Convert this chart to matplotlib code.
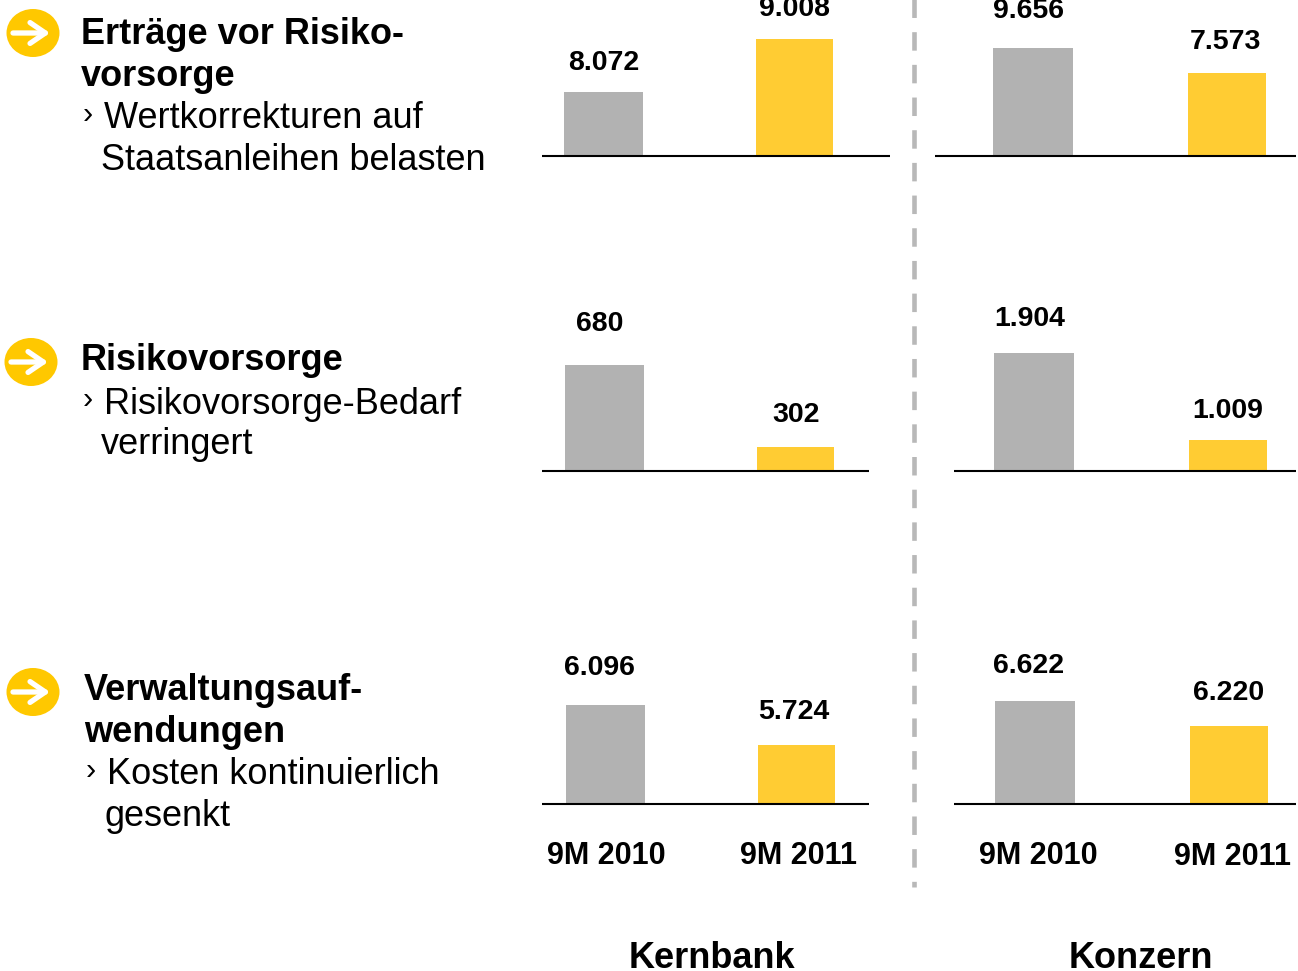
#!/usr/bin/env python3
# -*- coding: utf-8 -*-
import matplotlib
matplotlib.use('Agg')
import matplotlib.pyplot as plt
from matplotlib.patches import Ellipse

W = 1298
H = 971

periods = ['9M 2010', '9M 2011']
groups = ['Kernbank', 'Konzern']

ertraege_kern = [8072, 9008]
ertraege_konz = [9656, 7573]
risiko_kern = [680, 302]
risiko_konz = [1904, 1009]
verwaltung_kern = [6096, 5724]
verwaltung_konz = [6622, 6220]

GREY = '#B2B2B2'
YELLOW = '#FFCC33'
ICON = '#FFC800'
SANS = ['Liberation Sans', 'DejaVu Sans']

plt.rcParams['font.family'] = SANS

fig = plt.figure(figsize=(W / 100, H / 100), dpi=100)


def panel(vals, base, px_per_unit, left, right, y0, bars, label_pos):
    # one small bar chart, axis is cut off at base like in the slide
    height = y0
    ax = fig.add_axes([left / W, 1 - y0 / H, (right - left) / W, height / H])
    ax.patch.set_alpha(0)
    c0 = (bars[0][0] + bars[0][1]) / 2
    c1 = (bars[1][0] + bars[1][1]) / 2
    step = c1 - c0
    ax.set_xlim((left - c0) / step, (right - c0) / step)
    ax.set_ylim(base, base + height / px_per_unit)
    widths = [(b[1] - b[0]) / step for b in bars]
    ax.bar([0, 1], vals, width=widths, color=[GREY, YELLOW], linewidth=0)
    for s in ['top', 'left', 'right']:
        ax.spines[s].set_visible(False)
    ax.spines['bottom'].set_linewidth(1.5)
    ax.spines['bottom'].set_color('black')
    ax.spines['bottom'].set_capstyle('butt')
    ax.set_xticks([])
    ax.set_yticks([])
    for v, (lx, ly) in zip(vals, label_pos):
        over.text(lx, ly, f'{v:,}'.replace(',', '.'), fontsize=20.5, fontweight='bold',
                  ha='center', va='center', color='black')


# overlay in pixel coordinates for text, icons and the dashed divider
over = fig.add_axes([0, 0, 1, 1])
over.set_xlim(0, W)
over.set_ylim(H, 0)
over.axis('off')
over.set_zorder(5)
over.patch.set_alpha(0)

panel(ertraege_kern, 6942, 53 / 936, 542, 890, 156, [(564, 643), (756, 833)], [(604, 63), (794, 9)])
panel(ertraege_konz, 660, 25 / 2083, 935, 1296, 156, [(993, 1073), (1188, 1266)], [(1029, 11), (1225, 42)])
panel(risiko_kern, 191, 82 / 378, 542, 869, 471, [(565, 644), (757, 834)], [(600, 324), (796, 415)])
panel(risiko_konz, 690, 87 / 895, 954, 1296, 471, [(994, 1074), (1189, 1267)], [(1030, 319), (1228, 411)])
panel(verwaltung_kern, 5176, 40 / 372, 542, 869, 804, [(566, 645), (758, 835)], [(599, 668), (794, 712)])
panel(verwaltung_konz, 4966, 25 / 402, 954, 1296, 804, [(995, 1075), (1190, 1268)], [(1029, 666), (1229, 693)])

# divider
over.plot([914, 914], [-13, 887], color='#B8B8B8', lw=3.3, dashes=(4.03, 3.1), dash_capstyle='butt')


def icon(cx, cy):
    over.add_patch(Ellipse((cx, cy), 53, 48, color=ICON, lw=0))
    over.annotate('', xy=(cx + 17, cy), xytext=(cx - 20, cy),
                  arrowprops=dict(arrowstyle='->,head_length=1.1,head_width=0.75', color='white', lw=3.8,
                                  shrinkA=0, shrinkB=0))


def head(x, y, s):
    over.text(x, y, s, fontsize=26, fontweight='bold', ha='left', va='center', color='black')


def body(x, y, s):
    over.text(x, y, s, fontsize=26, ha='left', va='center', color='black')


def chevron(x, y):
    over.text(x, y, '›', fontsize=22, ha='left', va='center', color='black')


icon(33, 33)
head(81, 34, 'Erträge vor Risiko-')
head(81, 77, 'vorsorge')
chevron(83, 115)
body(104, 119, 'Wertkorrekturen auf')
body(101, 161, 'Staatsanleihen belasten')

icon(31, 362)
head(81, 360, 'Risikovorsorge')
chevron(83, 400)
body(104, 404, 'Risikovorsorge-Bedarf')
body(101, 445, 'verringert')

icon(33, 692)
head(84, 690, 'Verwaltungsauf-')
head(84, 732, 'wendungen')
chevron(86, 771)
body(107, 774, 'Kosten kontinuierlich')
body(104, 816, 'gesenkt')

for x, y, s in [(606, 856, periods[0]), (799, 856, periods[1]), (1038, 856, periods[0]), (1233, 857, periods[1])]:
    over.text(x, y, s, fontsize=22, fontweight='bold', ha='center', va='center', color='black')

over.text(712, 958, groups[0], fontsize=26, fontweight='bold', ha='center', va='center', color='black')
over.text(1141, 958, groups[1], fontsize=26, fontweight='bold', ha='center', va='center', color='black')

plt.savefig('out.png', dpi=100)
